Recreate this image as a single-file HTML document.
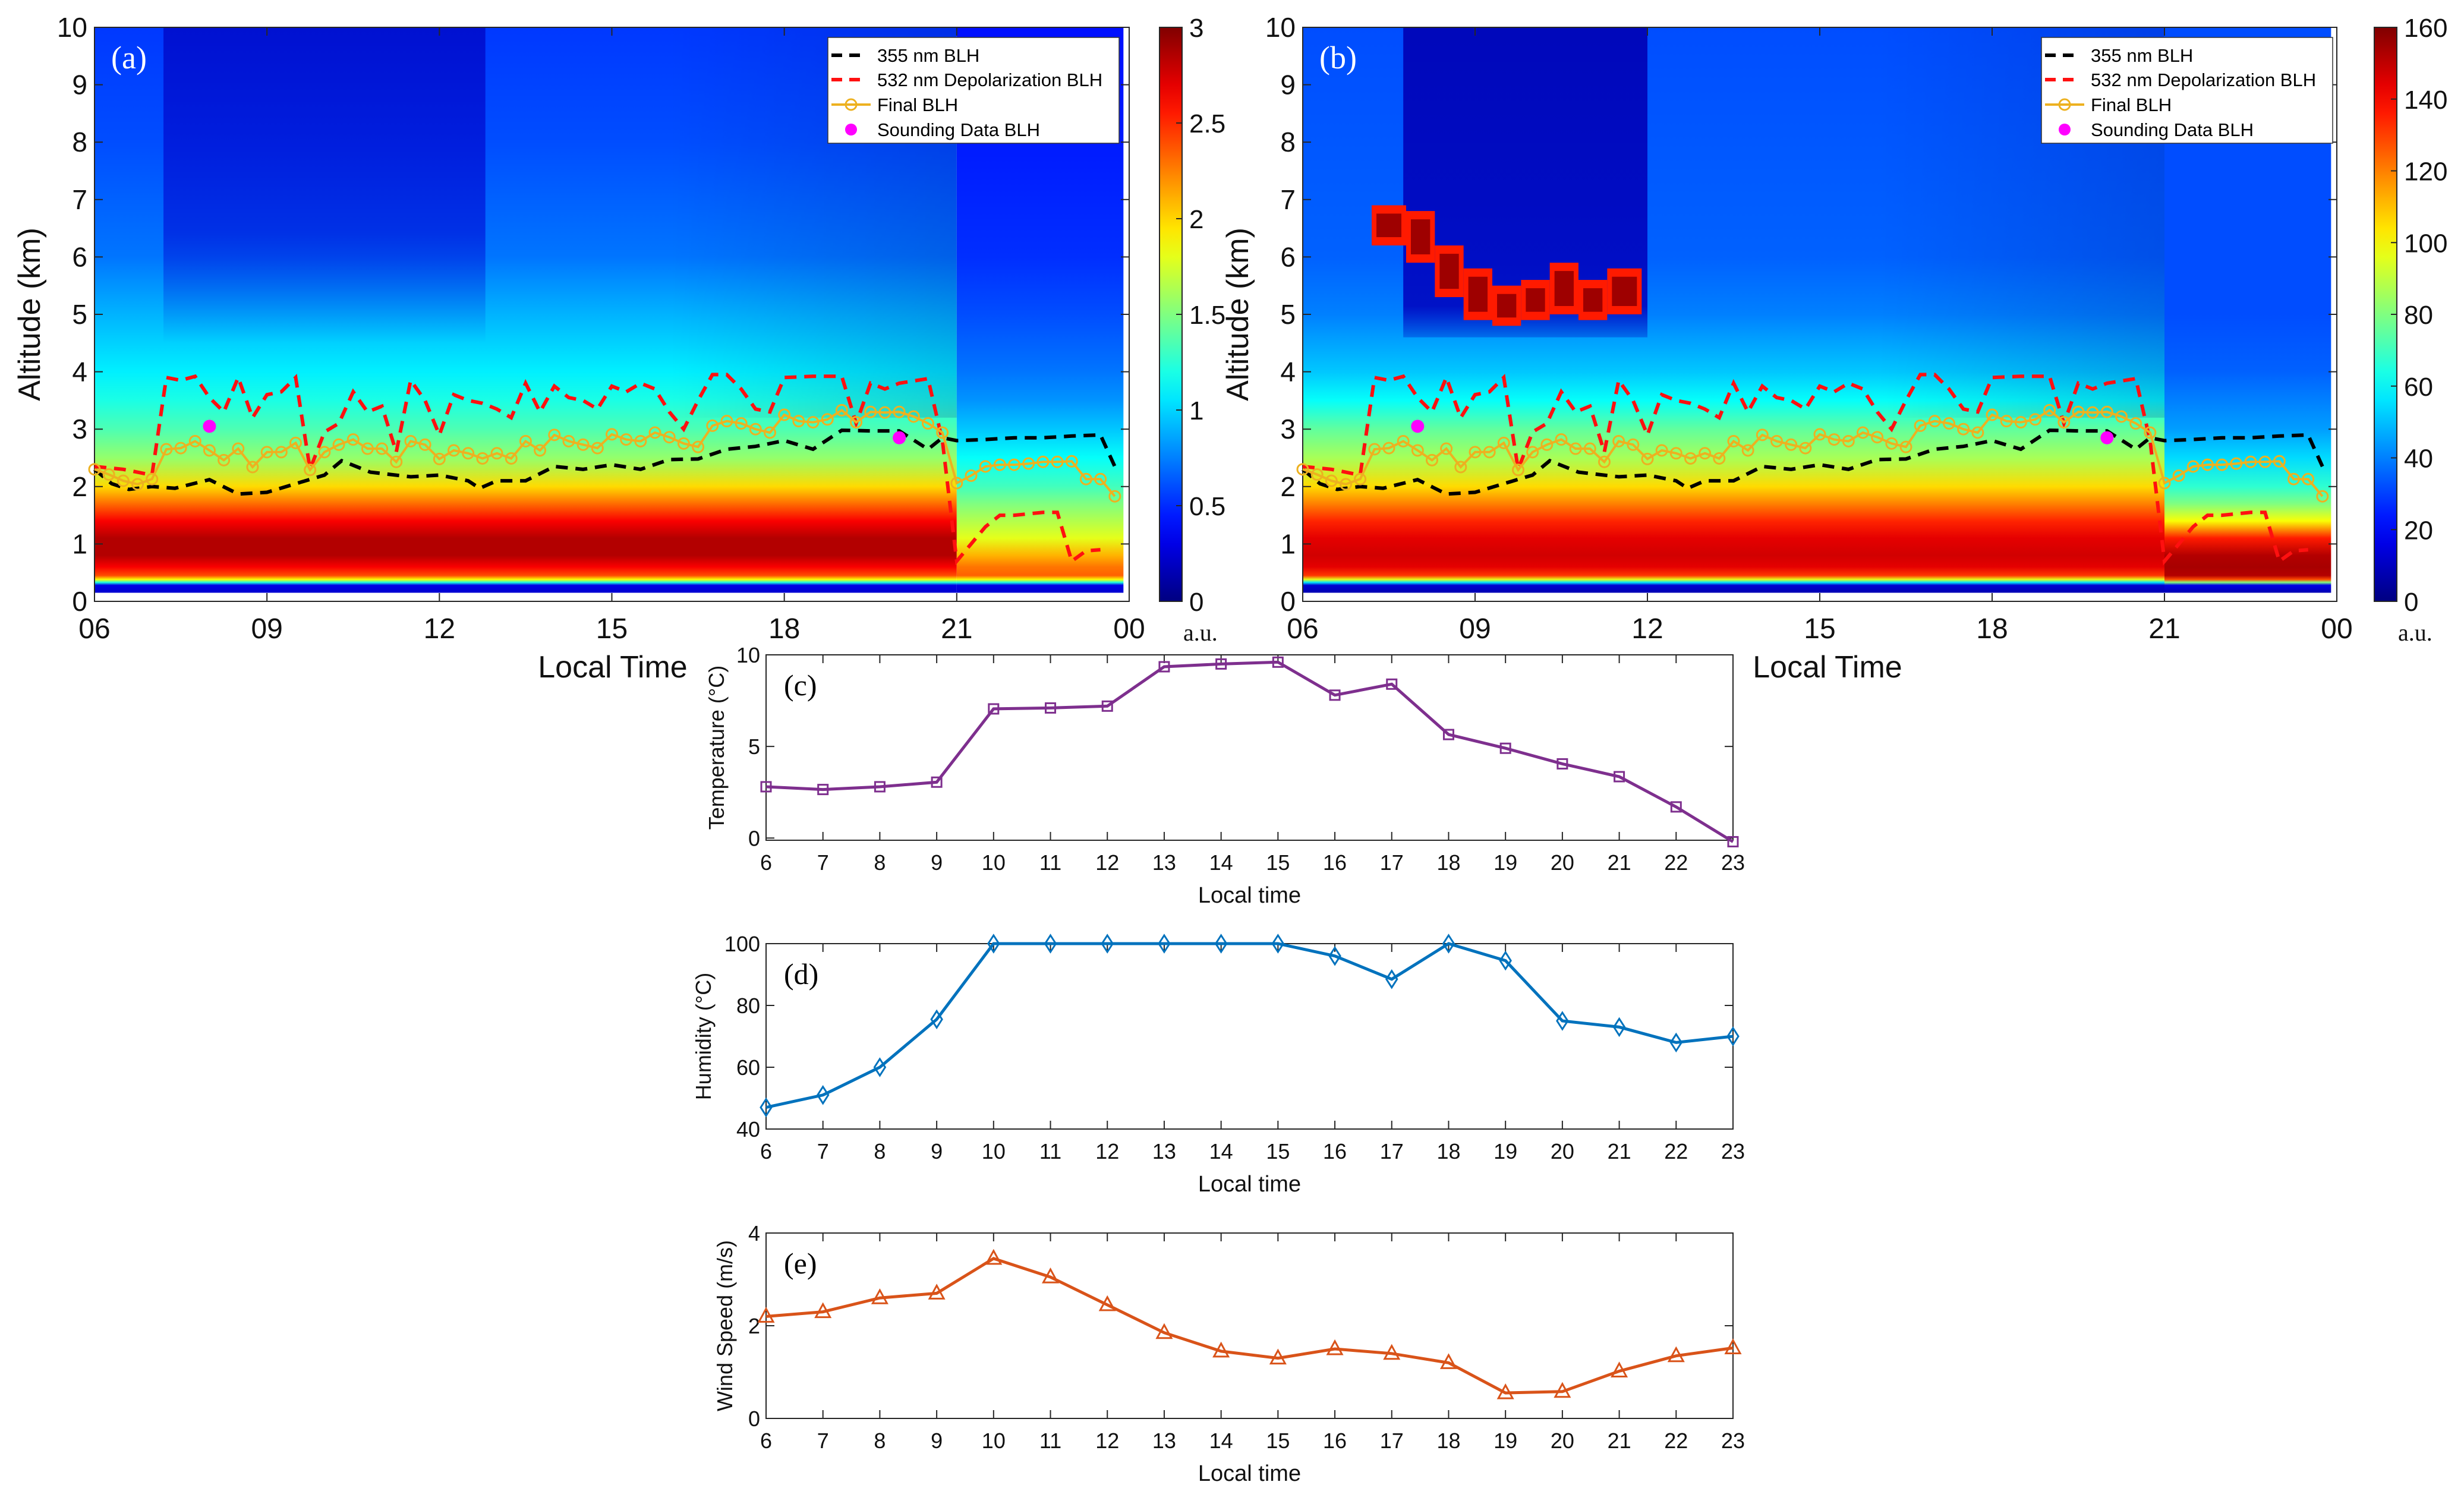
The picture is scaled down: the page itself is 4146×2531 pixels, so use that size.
<!DOCTYPE html>
<html><head><meta charset="utf-8">
<style>
html,body{margin:0;padding:0;background:#fff;}
svg{display:block;font-family:"Liberation Sans Narrow","Liberation Sans",sans-serif;}
</style></head>
<body>
<svg id="fig" xmlns="http://www.w3.org/2000/svg" width="4146" height="2531" viewBox="0 0 4146 2531">
<defs id="defs"></defs>
<g id="root"></g>
</svg>
<script>
// ---------- data ----------
const finalTimes = [];
for (let i = 0; i < 72; i++) finalTimes.push(6 + i * 0.25);
const finalBLH = [2.30,2.21,2.10,2.04,2.13,2.65,2.67,2.79,2.63,2.46,2.66,2.34,2.60,2.60,2.76,2.29,2.60,2.73,2.82,2.66,2.66,2.43,2.79,2.73,2.48,2.63,2.58,2.49,2.58,2.49,2.79,2.63,2.90,2.79,2.73,2.67,2.91,2.82,2.79,2.94,2.86,2.75,2.69,3.06,3.14,3.10,3.00,2.94,3.25,3.14,3.12,3.17,3.33,3.12,3.30,3.29,3.30,3.22,3.10,2.94,2.06,2.19,2.35,2.38,2.38,2.40,2.43,2.43,2.44,2.13,2.13,1.83];
const blh355Times = [6.0,6.3,6.6,7.0,7.4,8.0,8.5,9.0,9.5,10.0,10.3,10.8,11.5,12.0,12.5,12.7,13.0,13.5,14.0,14.5,15.0,15.5,16.0,16.5,17.0,17.5,18.0,18.5,19.0,19.5,20.0,20.5,20.75,21.0,21.5,22.0,22.5,23.0,23.5,23.75];
const blh355 = [2.3,2.05,1.95,2.0,1.97,2.12,1.87,1.9,2.05,2.2,2.45,2.25,2.17,2.2,2.1,1.97,2.1,2.1,2.35,2.3,2.38,2.3,2.47,2.48,2.65,2.7,2.8,2.65,2.98,2.97,2.97,2.65,2.85,2.8,2.82,2.85,2.85,2.88,2.9,2.35];
const blh532Times = [6.0,6.5,7.0,7.25,7.5,7.75,8.0,8.25,8.5,8.75,9.0,9.25,9.5,9.75,10.0,10.25,10.5,10.75,11.0,11.25,11.5,11.75,12.0,12.25,12.5,12.75,13.0,13.25,13.5,13.75,14.0,14.25,14.5,14.75,15.0,15.25,15.5,15.75,16.0,16.25,16.5,16.75,17.0,17.25,17.5,17.75,18.0,18.5,19.0,19.25,19.5,19.75,20.0,20.5,20.75,21.0,21.25,21.5,21.75,22.0,22.5,22.75,23.0,23.25,23.5];
const blh532 = [2.35,2.3,2.2,3.9,3.85,3.92,3.55,3.3,3.9,3.2,3.6,3.65,3.9,2.3,2.95,3.1,3.65,3.3,3.4,2.6,3.85,3.5,2.9,3.6,3.5,3.45,3.35,3.2,3.8,3.3,3.75,3.55,3.5,3.35,3.75,3.65,3.8,3.7,3.3,3.0,3.5,3.95,3.95,3.7,3.35,3.3,3.9,3.92,3.92,3.1,3.8,3.7,3.8,3.88,2.8,0.7,1.0,1.3,1.5,1.5,1.55,1.55,0.7,0.88,0.9];
const soundTimes = [8.0, 20.0];
const soundBLH = [3.05, 2.85];

const profAlt = [0.15,0.28,0.33,0.38,0.45,0.6,0.8,1.1,1.4,1.7,2.0,2.5,3.0,3.5,4.0,5.0,6.0,8.0,10];
const profAmid = [0.08,0.1,0.4,0.62,0.8,0.88,0.95,0.95,0.88,0.77,0.66,0.52,0.45,0.4,0.36,0.3,0.24,0.2,0.18];
const profAlate = [0.08,0.1,0.4,0.62,0.78,0.76,0.7,0.6,0.55,0.5,0.44,0.38,0.32,0.27,0.24,0.2,0.17,0.15,0.14];
const profBmid = [0.05,0.08,0.35,0.6,0.82,0.9,0.92,0.9,0.84,0.75,0.66,0.54,0.47,0.38,0.32,0.25,0.22,0.21,0.2];
const profBlate = [0.05,0.1,0.5,0.8,0.95,0.96,0.95,0.85,0.62,0.5,0.42,0.34,0.28,0.25,0.22,0.2,0.2,0.2,0.2];
const blobsB = [[7.2,7.8,6.2,6.9],[7.8,8.3,5.9,6.8],[8.3,8.8,5.3,6.2],[8.8,9.3,4.9,5.8],[9.3,9.8,4.8,5.5],[9.8,10.3,4.9,5.6],[10.3,10.8,5.0,5.9],[10.8,11.3,4.9,5.6],[11.3,11.9,5.0,5.8]];

const hours = [6,7,8,9,10,11,12,13,14,15,16,17,18,19,20,21,22,23];
const temperature = [2.8,2.65,2.8,3.05,7.05,7.1,7.2,9.35,9.5,9.6,7.8,8.4,5.65,4.9,4.05,3.35,1.7,-0.2];
const humidity = [47,51,60,75.5,100,100,100,100,100,100,96,88.5,100,94.5,75,73,68,70];
const windSpeed = [2.2,2.3,2.6,2.7,3.45,3.05,2.45,1.85,1.45,1.3,1.5,1.4,1.2,0.55,0.58,1.02,1.35,1.52];
const heatXTicks = ["06","09","12","15","18","21","00"];
const cbTicksA = ["0","0.5","1","1.5","2","2.5","3"];
const cbTicksB = ["0","20","40","60","80","100","120","140","160"];

const NS = "http://www.w3.org/2000/svg";
const root = document.getElementById('root');
const defs = document.getElementById('defs');
function mk(tag, attrs, parent) {
  const e = document.createElementNS(NS, tag);
  for (const k in attrs) e.setAttribute(k, attrs[k]);
  (parent || root).appendChild(e);
  return e;
}
function txt(s, attrs, parent) { const e = mk('text', attrs, parent); e.textContent = s; return e; }
function jet(v) {
  v = Math.max(0, Math.min(1, v));
  const c = x => Math.max(0, Math.min(1, x));
  const r = c(1.5 - Math.abs(4 * v - 3));
  const g = c(1.5 - Math.abs(4 * v - 2));
  const b = c(1.5 - Math.abs(4 * v - 1));
  return 'rgb(' + Math.round(r * 255) + ',' + Math.round(g * 255) + ',' + Math.round(b * 255) + ')';
}
function vgrad(id, prof) {
  const g = mk('linearGradient', {id: id, x1: 0, y1: 1, x2: 0, y2: 0}, defs);
  for (let i = 0; i < profAlt.length; i++) {
    const o = (profAlt[i] - 0.15) / (10 - 0.15);
    mk('stop', {offset: o, 'stop-color': jet(prof[i])}, g);
  }
}
vgrad('gAmid', profAmid); vgrad('gAlate', profAlate);
vgrad('gBmid', profBmid); vgrad('gBlate', profBlate);
(function(){
  const g = mk('linearGradient', {id: 'gCb', x1: 0, y1: 1, x2: 0, y2: 0}, defs);
  for (let i = 0; i <= 20; i++) mk('stop', {offset: i / 20, 'stop-color': jet(i / 20)}, g);
  const d = mk('linearGradient', {id: 'gDarkA', x1: 0, y1: 1, x2: 0, y2: 0}, defs);
  mk('stop', {offset: 0, 'stop-color': jet(0.08), 'stop-opacity': 0}, d);
  mk('stop', {offset: 0.35, 'stop-color': jet(0.08), 'stop-opacity': 0.55}, d);
  mk('stop', {offset: 1, 'stop-color': jet(0.06), 'stop-opacity': 0.7}, d);
  const d2 = mk('linearGradient', {id: 'gDarkB', x1: 0, y1: 1, x2: 0, y2: 0}, defs);
  mk('stop', {offset: 0, 'stop-color': jet(0.06), 'stop-opacity': 0.3}, d2);
  mk('stop', {offset: 0.1, 'stop-color': jet(0.06), 'stop-opacity': 0.85}, d2);
  mk('stop', {offset: 1, 'stop-color': jet(0.05), 'stop-opacity': 0.9}, d2);
  const h = mk('linearGradient', {id: 'gFade', x1: 0, y1: 0, x2: 1, y2: 0}, defs);
  mk('stop', {offset: 0, 'stop-color': '#000080', 'stop-opacity': 0}, h);
  mk('stop', {offset: 1, 'stop-color': '#000080', 'stop-opacity': 0.18}, h);
})();

function heatPanel(opt) {
  const L = opt.L, R = opt.R, T = 46, B = 1012;
  const X = h => L + (h - 6) / 18 * (R - L);
  const Y = km => B - km / 10 * (B - T);
  const g = mk('g', {});  
  const hm = mk('g', {}, g);  
  mk('rect', {x: X(6), y: Y(10), width: X(21) - X(6), height: Y(0.15) - Y(10), fill: 'url(#' + opt.gMid + ')'}, hm);
  mk('rect', {x: X(21), y: Y(10), width: X(23.9) - X(21), height: Y(0.15) - Y(10), fill: 'url(#' + opt.gLate + ')'}, hm);
  mk('rect', {x: X(16), y: Y(10), width: X(21) - X(16), height: Y(3.2) - Y(10), fill: 'url(#gFade)'}, hm);
  if (opt.dark) {
    const d = opt.dark;
    mk('rect', {x: X(d[0]), y: Y(d[3]), width: X(d[1]) - X(d[0]), height: Y(d[2]) - Y(d[3]), fill: 'url(#' + opt.darkGrad + ')'}, hm);
  }
  if (opt.blobs) {
    opt.blobs.forEach(b => {
      const r = mk('rect', {x: X(b[0]), y: Y(b[3]), width: X(b[1]) - X(b[0]), height: Y(b[2]) - Y(b[3]), fill: jet(0.85)}, hm);
      
      
      const r2 = mk('rect', {x: X(b[0]) + 8, y: Y(b[3]) + 14, width: X(b[1]) - X(b[0]) - 16, height: Y(b[2]) - Y(b[3]) - 28, fill: jet(0.97)}, hm);
      
      
    });
  }
  const ax = mk('g', {}, g);  
  mk('rect', {x: L, y: T, width: R - L, height: B - T, fill: 'none', stroke: '#262626', 'stroke-width': 2}, ax);
  for (let k = 0; k <= 10; k++) {
    const y = Y(k);
    mk('line', {x1: L, y1: y, x2: L + 14, y2: y, stroke: '#262626', 'stroke-width': 2}, ax);
    mk('line', {x1: R, y1: y, x2: R - 14, y2: y, stroke: '#262626', 'stroke-width': 2}, ax);
    const t = txt(String(k), {x: L - 12, y: y + 16, 'font-size': 46, 'text-anchor': 'end', fill: '#111'}, ax);
     
  }
  heatXTicks.forEach((s, i) => {
    const x = X(6 + 3 * i);
    mk('line', {x1: x, y1: B, x2: x, y2: B - 14, stroke: '#262626', 'stroke-width': 2}, ax);
    mk('line', {x1: x, y1: T, x2: x, y2: T + 14, stroke: '#262626', 'stroke-width': 2}, ax);
    const t = txt(s, {x: x, y: B + 62, 'font-size': 48, 'text-anchor': 'middle', fill: '#111'}, ax);
     
  });
  let t = txt('Altitude (km)', {x: 0, y: 0, 'font-size': 52, 'text-anchor': 'middle', fill: '#111', transform: 'translate(' + (L - 92) + ',' + ((T + B) / 2) + ') rotate(-90)', 'font-family': 'Liberation Sans, sans-serif'}, g);
   
  t = txt('Local Time', {x: opt.xlabX, y: 1140, 'font-size': 52, 'text-anchor': 'middle', fill: '#111'}, g);
   
  t = txt(opt.label, {x: L + 28, y: 115, 'font-size': 54, fill: '#fff', 'font-family': 'Liberation Serif, serif'}, g);
   
  const pts = (ts, vs) => ts.map((tt, i) => X(tt).toFixed(1) + ',' + Y(vs[i]).toFixed(1)).join(' ');
  let s = mk('polyline', {points: pts(blh355Times, blh355), fill: 'none', stroke: '#000', 'stroke-width': 6, 'stroke-dasharray': '20 13'}, g);
   
  s = mk('polyline', {points: pts(blh532Times, blh532), fill: 'none', stroke: '#ff1010', 'stroke-width': 6, 'stroke-dasharray': '20 13'}, g);
   
  s = mk('polyline', {points: pts(finalTimes, finalBLH), fill: 'none', stroke: '#edb120', 'stroke-width': 4}, g);
   
  finalTimes.forEach((tt, i) => {
    const c = mk('circle', {cx: X(tt), cy: Y(finalBLH[i]), r: 9, fill: 'none', stroke: '#edb120', 'stroke-width': 3}, g);
     
  });
  soundTimes.forEach((tt, i) => {
    const c = mk('circle', {cx: X(tt), cy: Y(soundBLH[i]), r: 11, fill: '#ff00ff'}, g);
     
  });
  const lg = mk('g', {}, g);  
  const lx = opt.legX;
  mk('rect', {x: lx, y: 63, width: 490, height: 178, fill: '#fff', stroke: '#333', 'stroke-width': 1.5}, lg);
  const rows = [93, 134, 176, 218];
  mk('line', {x1: lx + 6, y1: rows[0], x2: lx + 56, y2: rows[0], stroke: '#000', 'stroke-width': 6, 'stroke-dasharray': '18 12'}, lg);
  mk('line', {x1: lx + 6, y1: rows[1], x2: lx + 56, y2: rows[1], stroke: '#ff1010', 'stroke-width': 6, 'stroke-dasharray': '18 12'}, lg);
  mk('line', {x1: lx + 6, y1: rows[2], x2: lx + 72, y2: rows[2], stroke: '#edb120', 'stroke-width': 4}, lg);
  mk('circle', {cx: lx + 39, cy: rows[2], r: 9, fill: 'none', stroke: '#edb120', 'stroke-width': 3}, lg);
  mk('circle', {cx: lx + 39, cy: rows[3], r: 10, fill: '#ff00ff'}, lg);
  const names = ['355 nm BLH', '532 nm Depolarization BLH', 'Final BLH', 'Sounding Data BLH'];
  names.forEach((n, i) => {
    const e = txt(n, {x: lx + 83, y: rows[i] + 11, 'font-size': 31, fill: '#000'}, lg);
     
  });
  const cb = mk('g', {}, g);  
  const cx = opt.cbX;
  mk('rect', {x: cx, y: T, width: 38, height: B - T, fill: 'url(#gCb)', stroke: '#262626', 'stroke-width': 2}, cb);
  const n = opt.cbTicks.length - 1;
  opt.cbTicks.forEach((s2, i) => {
    const y = B - i / n * (B - T);
    mk('line', {x1: cx + 38, y1: y, x2: cx + 28, y2: y, stroke: '#262626', 'stroke-width': 2}, cb);
    const e = txt(s2, {x: cx + 50, y: y + 16, 'font-size': 44, fill: '#111'}, cb);
     
  });
  const u = txt('a.u.', {x: cx + 40, y: 1078, 'font-size': 40, fill: '#111', 'font-family': 'Liberation Serif, serif'}, cb);
   
}

heatPanel({name: 'panel-a', L: 159, R: 1900, gMid: 'gAmid', gLate: 'gAlate', dark: [7.2, 12.8, 4.5, 10], darkGrad: 'gDarkA', label: '(a)', legX: 1393, cbX: 1951, cbTicks: cbTicksA, xlabX: 1031});
heatPanel({name: 'panel-b', L: 2192, R: 3932, gMid: 'gBmid', gLate: 'gBlate', dark: [7.75, 12.0, 4.6, 10], darkGrad: 'gDarkB', blobs: blobsB, label: '(b)', legX: 3435, cbX: 3995, cbTicks: cbTicksB, xlabX: 3075});

function linePanel(opt) {
  const L = 1289, R = 2916, T = opt.T, B = opt.B;
  const X = h => L + (h - 6) / 17 * (R - L);
  const Y = v => B - (v - opt.ymin) / (opt.ymax - opt.ymin) * (B - T);
  const g = mk('g', {});  
  mk('rect', {x: L, y: T, width: R - L, height: B - T, fill: '#fff', stroke: '#262626', 'stroke-width': 2}, g);
  hours.forEach(h => {
    const x = X(h);
    mk('line', {x1: x, y1: B, x2: x, y2: B - 14, stroke: '#262626', 'stroke-width': 2}, g);
    mk('line', {x1: x, y1: T, x2: x, y2: T + 14, stroke: '#262626', 'stroke-width': 2}, g);
    const e = txt(String(h), {x: x, y: B + 50, 'font-size': 36, 'text-anchor': 'middle', fill: '#111'}, g);
     
  });
  opt.yticks.forEach(v => {
    const y = Y(v);
    mk('line', {x1: L, y1: y, x2: L + 14, y2: y, stroke: '#262626', 'stroke-width': 2}, g);
    mk('line', {x1: R, y1: y, x2: R - 14, y2: y, stroke: '#262626', 'stroke-width': 2}, g);
    const e = txt(String(v), {x: L - 10, y: y + 13, 'font-size': 36, 'text-anchor': 'end', fill: '#111'}, g);
     
  });
  let e = txt('Local time', {x: (L + R) / 2, y: B + 105, 'font-size': 38, 'text-anchor': 'middle', fill: '#111'}, g);
   
  e = txt(opt.ylabel, {x: 0, y: 0, 'font-size': 36, 'text-anchor': 'middle', fill: '#111', 'font-family': 'Liberation Sans, sans-serif', transform: 'translate(' + opt.ylabX + ',' + ((T + B) / 2) + ') rotate(-90)'}, g);
   
  e = txt(opt.label, {x: L + 30, y: T + 68, 'font-size': 50, fill: '#000', 'font-family': 'Liberation Serif, serif'}, g);
   
  const p = mk('polyline', {points: hours.map((h, i) => X(h).toFixed(1) + ',' + Y(opt.vals[i]).toFixed(1)).join(' '), fill: 'none', stroke: opt.color, 'stroke-width': 5}, g);
   
  hours.forEach((h, i) => {
    const x = X(h), y = Y(opt.vals[i]);
    let m;
    if (opt.marker === 'square') m = mk('rect', {x: x - 8, y: y - 8, width: 16, height: 16, fill: 'none', stroke: opt.color, 'stroke-width': 3}, g);
    else if (opt.marker === 'diamond') m = mk('polygon', {points: x + ',' + (y - 14) + ' ' + (x + 9) + ',' + y + ' ' + x + ',' + (y + 14) + ' ' + (x - 9) + ',' + y, fill: 'none', stroke: opt.color, 'stroke-width': 3}, g);
    else m = mk('polygon', {points: x + ',' + (y - 13) + ' ' + (x + 12) + ',' + (y + 9) + ' ' + (x - 12) + ',' + (y + 9), fill: 'none', stroke: opt.color, 'stroke-width': 3}, g);
    
    
  });
}
linePanel({name: 'temperature', T: 1102, B: 1414, ymin: -0.12, ymax: 10, yticks: [0, 5, 10], vals: temperature, color: '#7e2f8e', marker: 'square', ylabel: 'Temperature (°C)', ylabX: 1218, label: '(c)'});
linePanel({name: 'humidity', T: 1588, B: 1900, ymin: 40, ymax: 100, yticks: [40, 60, 80, 100], vals: humidity, color: '#0072bd', marker: 'diamond', ylabel: 'Humidity (°C)', ylabX: 1196, label: '(d)'});
linePanel({name: 'wind-speed', T: 2075, B: 2387, ymin: 0, ymax: 4, yticks: [0, 2, 4], vals: windSpeed, color: '#d95319', marker: 'triangle', ylabel: 'Wind Speed (m/s)', ylabX: 1232, label: '(e)'});
</script>
</body></html>
